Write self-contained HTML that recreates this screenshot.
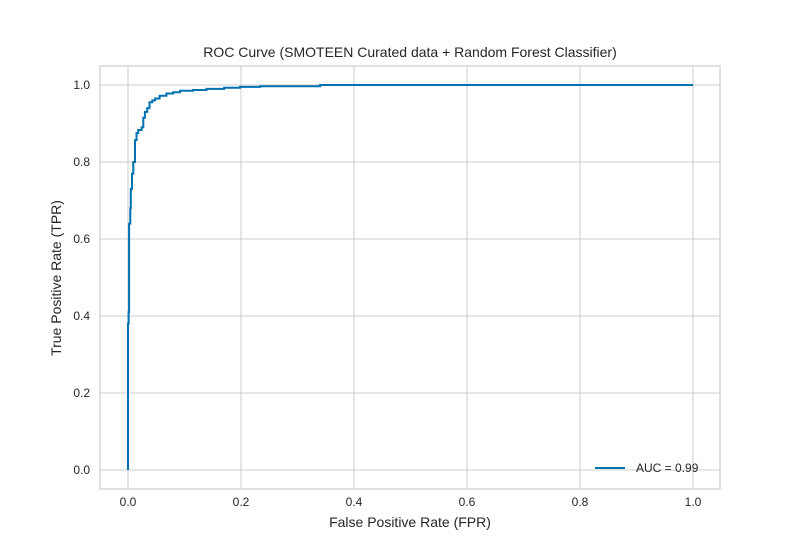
<!DOCTYPE html>
<html><head><meta charset="utf-8"><style>
body{margin:0;background:#fff;font-family:"Liberation Sans",sans-serif}
svg text{font-family:"Liberation Sans",sans-serif;fill:#262626}
</style></head><body>
<svg width="800" height="550" xmlns="http://www.w3.org/2000/svg">
<rect width="800" height="550" fill="#fff"/>
<g id="grid"></g>
<rect x="100" y="66" width="620" height="423" fill="none" stroke="#cccccc" stroke-width="1.2"/>
<g id="ticks"></g>
<path id="curve" fill="none" stroke="#0072b2" stroke-width="2"/>
<text x="410" y="57" font-size="14" text-anchor="middle">ROC Curve (SMOTEEN Curated data + Random Forest Classifier)</text>
<text x="410" y="527" font-size="14" text-anchor="middle">False Positive Rate (FPR)</text>
<text x="61" y="278" font-size="14" text-anchor="middle" transform="rotate(-90 61 278)">True Positive Rate (TPR)</text>
<g>
<line x1="595" y1="468" x2="625" y2="468" stroke="#0072b2" stroke-width="2"/>
<text x="636" y="472" font-size="12">AUC = 0.99</text>
</g>
</svg>
<script>
const fpr=[0,0,0.001,0.001,0.002,0.002,0.004,0.004,0.005,0.005,0.007,0.007,0.0094,0.0094,0.0124,0.0124,0.015,0.015,0.018,0.018,0.024,0.024,0.027,0.027,0.030,0.030,0.034,0.034,0.038,0.038,0.043,0.043,0.048,0.048,0.056,0.056,0.068,0.068,0.080,0.080,0.092,0.092,0.115,0.115,0.139,0.139,0.170,0.170,0.198,0.198,0.234,0.234,0.34,0.34,1.0];
const tpr=[0,0.38,0.38,0.41,0.41,0.64,0.64,0.68,0.68,0.73,0.73,0.77,0.77,0.80,0.80,0.857,0.857,0.875,0.875,0.883,0.883,0.89,0.89,0.915,0.915,0.93,0.93,0.94,0.94,0.955,0.955,0.96,0.96,0.965,0.965,0.972,0.972,0.978,0.978,0.981,0.981,0.985,0.985,0.987,0.987,0.99,0.99,0.993,0.993,0.995,0.995,0.997,0.997,1.0,1.0];
const xTicks=[0,0.2,0.4,0.6,0.8,1.0];
const yTicks=[0,0.2,0.4,0.6,0.8,1.0];
const X=v=>128+v*565, Y=v=>470-v*385;
const NS="http://www.w3.org/2000/svg";
const g=document.getElementById('grid'), t=document.getElementById('ticks');
xTicks.forEach(v=>{
 const l=document.createElementNS(NS,'line');
 l.setAttribute('x1',X(v));l.setAttribute('x2',X(v));l.setAttribute('y1',66);l.setAttribute('y2',489);
 l.setAttribute('stroke','#cccccc');l.setAttribute('stroke-width','1');
 
 
 g.appendChild(l);
 const tx=document.createElementNS(NS,'text');
 tx.setAttribute('x',X(v));tx.setAttribute('y',506);tx.setAttribute('font-size','12');tx.setAttribute('text-anchor','middle');
 tx.textContent=v.toFixed(1);
 
 
 t.appendChild(tx);
});
yTicks.forEach(v=>{
 const l=document.createElementNS(NS,'line');
 l.setAttribute('y1',Y(v));l.setAttribute('y2',Y(v));l.setAttribute('x1',100);l.setAttribute('x2',720);
 l.setAttribute('stroke','#cccccc');l.setAttribute('stroke-width','1');
 
 
 g.appendChild(l);
 const tx=document.createElementNS(NS,'text');
 tx.setAttribute('x',90);tx.setAttribute('y',Y(v)+4);tx.setAttribute('font-size','12');tx.setAttribute('text-anchor','end');
 tx.textContent=v.toFixed(1);
 
 
 t.appendChild(tx);
});
document.getElementById('curve').setAttribute('d',fpr.map((v,i)=>(i?'L':'M')+X(v).toFixed(1)+','+Y(tpr[i]).toFixed(1)).join(''));
</script>
</body></html>
